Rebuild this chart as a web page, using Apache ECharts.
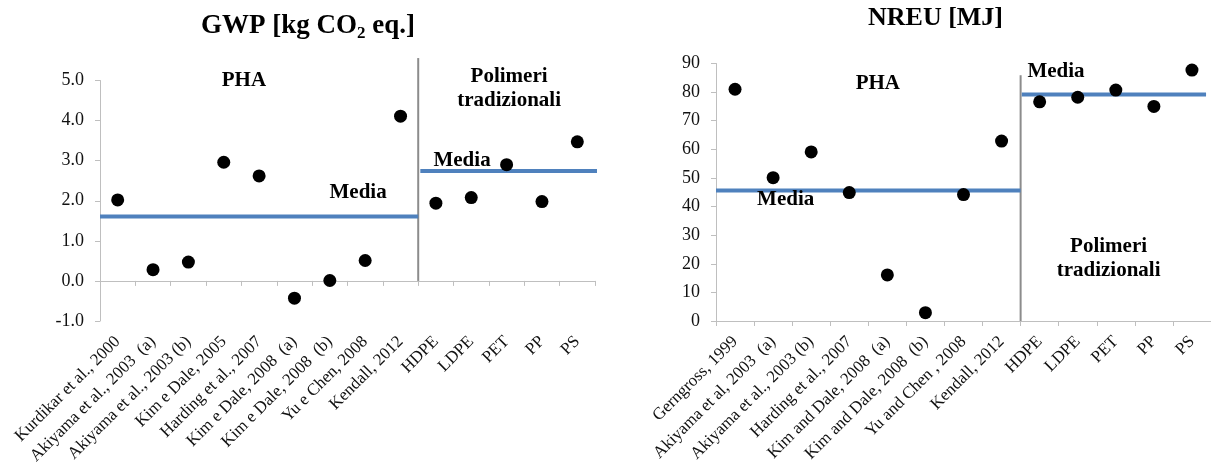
<!DOCTYPE html>
<html><head><meta charset="utf-8">
<script src="https://cdn.jsdelivr.net/npm/echarts@6/dist/echarts.min.js"></script>
<style>html,body{margin:0;padding:0;background:#fff}#c{width:1211px;height:472px}</style>
</head><body><div id="c"></div>
<script>
// ---- Data: GWP chart ----
const gwpCategories = ['Kurdikar et al., 2000', 'Akiyama et al., 2003  (a)', 'Akiyama et al., 2003 (b)', 'Kim e Dale, 2005', 'Harding et al., 2007', 'Kim e Dale, 2008  (a)', 'Kim e Dale, 2008  (b)', 'Yu e Chen, 2008', 'Kendall, 2012', 'HDPE', 'LDPE', 'PET', 'PP', 'PS'];
const gwpValues = [2.02, 0.28, 0.47, 2.96, 2.62, -0.43, 0.01, 0.51, 4.11, 1.94, 2.08, 2.90, 1.98, 3.47];
const gwpMeanPHA = 1.61;
const gwpMeanTrad = 2.74;
const gwpAxis = { min: -1, max: 5, interval: 1 };

// ---- Data: NREU chart ----
const nreuCategories = ['Gerngross, 1999', 'Akiyama et al, 2003  (a)', 'Akiyama et al., 2003 (b)', 'Harding et al., 2007', 'Kim and Dale, 2008  (a)', 'Kim and Dale, 2008  (b)', 'Yu and Chen , 2008', 'Kendall, 2012', 'HDPE', 'LDPE', 'PET', 'PP', 'PS'];
const nreuValues = [81.0, 50.1, 59.1, 44.9, 16.1, 2.9, 44.2, 62.9, 76.6, 78.2, 80.7, 75.0, 87.7];
const nreuMeanPHA = 45.6;
const nreuMeanTrad = 79.2;
const nreuAxis = { min: 0, max: 90, interval: 10 };

const gwpPhaCount = 9;
const nreuPhaCount = 8;

const FONT = '"Liberation Serif", "Times New Roman", serif';
const TXT = '#000';
const AXC = '#bfbfbf';
const BLUE = '#4f81bd';

const chart = echarts.init(document.getElementById('c'), null, { renderer: 'canvas' });

function catAxisLine(gridIndex, cats) {
  return {
    type: 'category', gridIndex, data: cats, position: 'bottom', boundaryGap: true,
    axisLine: { show: true, onZero: true, lineStyle: { color: AXC, width: 1 } },
    axisTick: { show: true, length: 5, interval: 0, lineStyle: { color: AXC } },
    axisLabel: { show: false }, splitLine: { show: false }
  };
}
function catAxisLabels(gridIndex, cats) {
  return {
    type: 'category', gridIndex, data: cats, position: 'bottom', boundaryGap: true,
    axisLine: { show: false, onZero: false }, axisTick: { show: false },
    axisLabel: { show: true, rotate: 45, interval: 0, margin: 18, fontFamily: FONT, fontSize: 17, color: '#111' },
    splitLine: { show: false }
  };
}
function valueX(gridIndex, n) {
  return { type: 'value', gridIndex, min: 0, max: n, show: false, position: 'top', axisLine: { onZero: false } };
}
function valueY(gridIndex, ax, fmt) {
  return {
    type: 'value', gridIndex, min: ax.min, max: ax.max, interval: ax.interval,
    axisLine: { show: true, onZero: false, lineStyle: { color: AXC } },
    axisTick: { show: true, length: 5, lineStyle: { color: AXC } },
    splitLine: { show: false },
    axisLabel: { fontFamily: FONT, fontSize: 18, color: '#111', margin: 16, formatter: fmt }
  };
}
function lineSeries(xi, yi, data, color, width) {
  return { type: 'line', xAxisIndex: xi, yAxisIndex: yi, data, symbol: 'none', clip: false, silent: true,
    lineStyle: { color, width }, z: 1, animation: false };
}
function textSeries(xi, yi, items) {
  return { type: 'scatter', xAxisIndex: xi, yAxisIndex: yi, symbolSize: 1, clip: false, silent: true,
    itemStyle: { color: 'rgba(0,0,0,0)', opacity: 1 }, z: 5, animation: false,
    label: { show: true, position: 'inside', formatter: p => p.name, fontFamily: FONT, fontSize: 21, fontWeight: 'bold', color: TXT, opacity: 1, lineHeight: 24, align: 'center', verticalAlign: 'middle' },
    data: items.map(d => ({ name: d[0], value: [d[1], d[2]] })) };
}
function dotSeries(xi, yi, data) {
  return { type: 'scatter', xAxisIndex: xi, yAxisIndex: yi, data, symbolSize: 13,
    itemStyle: { color: '#000', opacity: 1 }, z: 3 };
}

const option = {
  animation: false,
  title: [
    { text: 'GWP [kg CO{s|2} eq.]', left: 196, top: 6,
      textStyle: { fontFamily: FONT, fontSize: 27, fontWeight: 'bold', color: TXT,
        rich: { s: { fontFamily: FONT, fontSize: 17, fontWeight: 'bold', color: TXT, padding: [14, 0, 0, 0] } } } },
    { text: 'NREU [MJ]', left: 863, top: 0,
      textStyle: { fontFamily: FONT, fontSize: 26, fontWeight: 'bold', color: TXT } }
  ],
  grid: [
    { left: 100, top: 80.5, width: 495, height: 240.5, containLabel: false },
    { left: 716, top: 63.5, width: 498, height: 257.5, containLabel: false }
  ],
  xAxis: [
    catAxisLine(0, gwpCategories),
    catAxisLabels(0, gwpCategories),
    valueX(0, gwpCategories.length),
    catAxisLine(1, nreuCategories),
    catAxisLabels(1, nreuCategories),
    valueX(1, nreuCategories.length)
  ],
  yAxis: [
    valueY(0, gwpAxis, v => v.toFixed(1)),
    valueY(1, nreuAxis, v => String(v))
  ],
  series: [
    // GWP
    lineSeries(2, 0, [[gwpPhaCount, 0], [gwpPhaCount, 5.56]], '#8c8c8c', 2),
    lineSeries(2, 0, [[0, gwpMeanPHA], [gwpPhaCount, gwpMeanPHA]], BLUE, 4),
    lineSeries(2, 0, [[gwpPhaCount + 0.06, gwpMeanTrad], [gwpCategories.length + 0.3, gwpMeanTrad]], BLUE, 4),
    dotSeries(0, 0, gwpValues),
    textSeries(2, 0, [['PHA', 4.07, 5.01], ['Polimeri\ntradizionali', 11.57, 4.81], ['Media', 7.3, 2.2], ['Media', 10.24, 3.0]]),
    // NREU
    lineSeries(5, 1, [[nreuPhaCount, 0], [nreuPhaCount, 85.9]], '#8c8c8c', 2),
    lineSeries(5, 1, [[0, nreuMeanPHA], [nreuPhaCount, nreuMeanPHA]], BLUE, 4),
    lineSeries(5, 1, [[nreuPhaCount + 0.03, nreuMeanTrad], [nreuCategories.length - 0.13, nreuMeanTrad]], BLUE, 4),
    dotSeries(3, 1, nreuValues),
    textSeries(5, 1, [['PHA', 4.25, 83.1], ['Media', 1.83, 42.3], ['Media', 8.93, 87.3], ['Polimeri\ntradizionali', 10.31, 21.7]])
  ]
};
chart.setOption(option);
</script>
</body></html>
